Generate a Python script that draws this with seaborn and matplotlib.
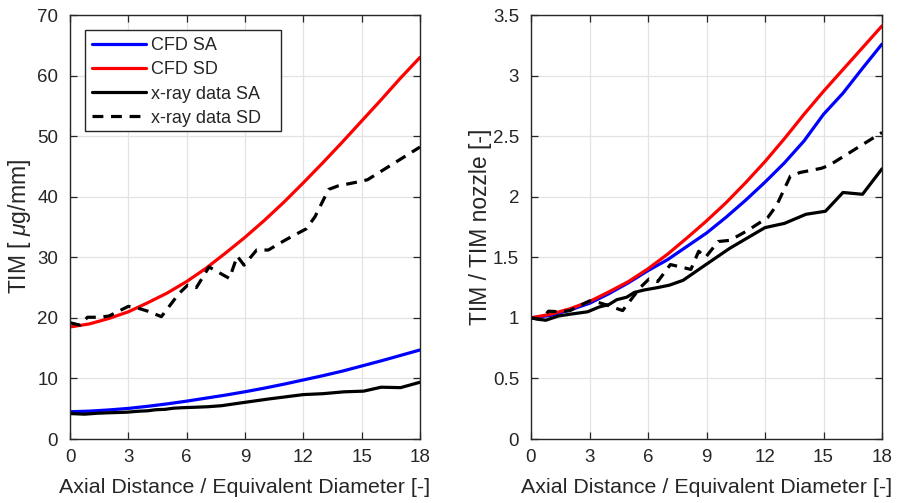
import matplotlib
matplotlib.use("Agg")
import matplotlib.pyplot as plt
from matplotlib.patches import Rectangle
import seaborn as sns

# ---------------- data ----------------
x_cfd = [0, 1, 2, 3, 4, 5, 6, 7, 8, 9, 10, 11, 12, 13, 14, 15, 16, 17, 18]
cfd_sa = [4.5, 4.6, 4.8, 5.05, 5.4, 5.8, 6.25, 6.75, 7.25, 7.8, 8.4, 9.05,
          9.75, 10.45, 11.2, 12.05, 12.9, 13.8, 14.7]
cfd_sd = [18.5, 19.0, 19.9, 21.0, 22.5, 24.1, 26.0, 28.2, 30.7, 33.3, 36.1,
          39.1, 42.3, 45.6, 49.0, 52.5, 56.0, 59.6, 63.0]
cfd_sa_norm = [1.0, 1.02, 1.065, 1.12, 1.20, 1.29, 1.39, 1.48, 1.59, 1.70,
               1.83, 1.97, 2.12, 2.28, 2.46, 2.68, 2.855, 3.06, 3.26]
cfd_sd_norm = [1.0, 1.03, 1.075, 1.135, 1.215, 1.30, 1.405, 1.525, 1.66, 1.80,
               1.95, 2.115, 2.29, 2.48, 2.68, 2.87, 3.05, 3.23, 3.41]

x_xray_sa = [0, 0.75, 1.4, 2.0, 2.9, 3.5, 4.0, 4.4, 4.9, 5.3, 5.8, 6.5, 7.1,
             7.8, 8.7, 10.2, 12.0, 13.0, 14.1, 15.1, 16.0, 17.0, 18.0]
xray_sa = [4.2, 4.1, 4.25, 4.33, 4.42, 4.58, 4.66, 4.83, 4.9, 5.08, 5.17,
           5.25, 5.33, 5.5, 5.92, 6.6, 7.33, 7.48, 7.79, 7.9, 8.55, 8.48, 9.37]
xray_sa_norm = [1.0, 0.98, 1.015, 1.03, 1.05, 1.09, 1.11, 1.15, 1.17, 1.21,
                1.23, 1.25, 1.27, 1.31, 1.41, 1.575, 1.745, 1.78, 1.855, 1.88,
                2.035, 2.02, 2.23]

x_xray_sd = [0, 0.5, 0.9, 1.5, 2.0, 3.0, 3.5, 4.0, 4.7, 5.6, 6.05, 6.5, 7.15,
             8.2, 8.6, 8.95, 9.6, 10.2, 11.1, 12.15, 12.6, 13.3, 13.8, 14.9,
             15.3, 18.0]
xray_sd = [19.2, 18.8, 20.1, 20.1, 20.3, 21.9, 21.6, 21.1, 20.2, 24.0, 25.4,
           25.0, 28.4, 26.5, 30.2, 28.7, 31.2, 31.2, 32.9, 34.7, 36.7, 41.2,
           41.8, 42.5, 42.8, 48.2]
xray_sd_norm = [1.0, 0.985, 1.055, 1.05, 1.06, 1.14, 1.125, 1.10, 1.06, 1.25,
                1.32, 1.30, 1.44, 1.40, 1.55, 1.50, 1.63, 1.64, 1.72, 1.83,
                1.93, 2.17, 2.20, 2.235, 2.26, 2.53]

xticks = [0, 3, 6, 9, 12, 15, 18]
yticks_left = [0, 10, 20, 30, 40, 50, 60, 70]
yticks_right = [0, 0.5, 1, 1.5, 2, 2.5, 3, 3.5]
ytick_labels_right = ["0", "0.5", "1", "1.5", "2", "2.5", "3", "3.5"]

labels = ["CFD SA", "CFD SD", "x-ray data SA", "x-ray data SD"]
xlabel = "Axial Distance / Equivalent Diameter [-]"
ylabel_left = r"TIM [ $\mu$g/mm]"
ylabel_right = "TIM / TIM nozzle [-]"

# ---------------- styling ----------------
sns.set_theme(style="whitegrid")
plt.rcParams["font.family"] = ["Liberation Sans", "DejaVu Sans"]
plt.rcParams["mathtext.fontset"] = "custom"
plt.rcParams["mathtext.it"] = "Liberation Sans:italic"
plt.rcParams["mathtext.rm"] = "Liberation Sans"

TXT = "#262626"
LW = 2.3
DASH = (0, (3.4, 2.4))
TICK_FS = 13.5
LABEL_FS = 15.4
YLABEL_FS = 16.5

fig = plt.figure(figsize=(9.05, 5.03), dpi=100)
axL = fig.add_axes([70 / 905, 64 / 503, 350 / 905, 424 / 503])
axR = fig.add_axes([531 / 905, 64 / 503, 351 / 905, 424 / 503])


def draw(ax, sa, sd, xsa, xsd):
    sns.lineplot(x=x_cfd, y=sa, ax=ax, color="#0000ff", lw=LW, label=labels[0],
                 errorbar=None, sort=False)
    sns.lineplot(x=x_cfd, y=sd, ax=ax, color="#ff0000", lw=LW, label=labels[1],
                 errorbar=None, sort=False)
    sns.lineplot(x=x_xray_sa, y=xsa, ax=ax, color="black", lw=LW,
                 label=labels[2], errorbar=None, sort=False)
    sns.lineplot(x=x_xray_sd, y=xsd, ax=ax, color="black", lw=LW,
                 linestyle=DASH, label=labels[3], errorbar=None, sort=False)


draw(axL, cfd_sa, cfd_sd, xray_sa, xray_sd)
draw(axR, cfd_sa_norm, cfd_sd_norm, xray_sa_norm, xray_sd_norm)

for ax in (axL, axR):
    ax.set_facecolor("white")
    ax.set_xlim(0, 18)
    ax.set_xticks(xticks)
    ax.set_xticklabels([str(t) for t in xticks])
    ax.grid(True, color="#e3e3e3", lw=0.9)
    for s in ax.spines.values():
        s.set_color(TXT)
        s.set_linewidth(1.0)
        s.set_visible(True)
    ax.tick_params(axis="both", which="both", direction="in", length=5,
                   width=0.9, color=TXT, labelcolor=TXT, labelsize=TICK_FS,
                   top=True, right=True, bottom=True, left=True)
    ax.tick_params(axis="x", pad=7)
    ax.tick_params(axis="y", pad=8.5)
    ax.set_xlabel(xlabel, fontsize=LABEL_FS, color=TXT, labelpad=9)

axL.set_ylim(0, 70)
axL.set_yticks(yticks_left)
axL.set_yticklabels([str(t) for t in yticks_left])
axL.set_ylabel(ylabel_left, fontsize=YLABEL_FS, color=TXT, labelpad=3)

axR.set_ylim(0, 3.5)
axR.set_yticks(yticks_right)
axR.set_yticklabels(ytick_labels_right)
axR.set_ylabel(ylabel_right, fontsize=YLABEL_FS, color=TXT, labelpad=1)

axR.get_legend().remove()
leg = axL.legend(loc="upper left", bbox_to_anchor=(0.043, 0.965),
                 fontsize=13, frameon=False, handlelength=3.0,
                 handletextpad=0.28, borderpad=0.4, labelspacing=0.4,
                 borderaxespad=0)
leg.set_zorder(6)
for t in leg.get_texts():
    t.set_color(TXT)
# legend box (MATLAB style, extra room on the right)
axL.add_patch(Rectangle(((85 - 70) / 350, (439 - 131) / 424),
                        (281 - 85) / 350, (131 - 30) / 424,
                        transform=axL.transAxes, facecolor="white",
                        edgecolor=TXT, lw=1.0, zorder=5))

fig.savefig("out.png", dpi=100, facecolor="white")
